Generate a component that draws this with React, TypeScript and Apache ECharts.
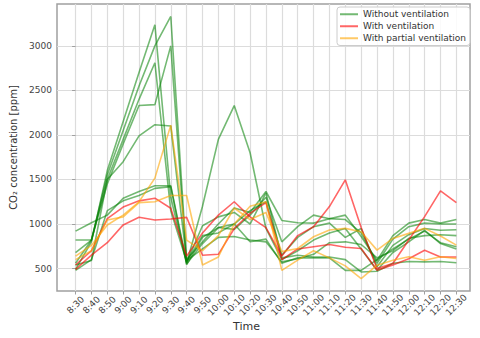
import { useEffect, useRef } from "react";
import * as echarts from "echarts";

const times = ["8:30","8:40","8:50","9:00","9:10","9:20","9:30","9:40","9:50","10:00","10:10","10:20","10:30","10:40","10:50","11:00","11:10","11:20","11:30","11:40","11:50","12:00","12:10","12:20","12:30"];
const yTicks = [500, 1000, 1500, 2000, 2500, 3000];

const green1 = [490, 800, 1600, 2150, 2700, 3236, 1300, 560, 1200, 1950, 2330, 1800, 950, 600, 700, 820, 900, 950, 720, 480, 680, 800, 930, 780, 720];
const green2 = [560, 820, 1550, 2050, 2550, 3000, 3330, 600, 800, 1000, 1180, 1130, 1365, 1040, 1015, 1010, 1060, 1100, 860, 590, 870, 1010, 1050, 1010, 1050];
const green3 = [680, 820, 1450, 1900, 2330, 2340, 3000, 550, 780, 960, 940, 1100, 1300, 800, 970, 1100, 1060, 1050, 900, 560, 830, 970, 1010, 1000, 1000];
const green4 = [540, 590, 1500, 1950, 2400, 2810, 1150, 580, 870, 900, 1000, 1150, 1250, 650, 850, 970, 1010, 850, 950, 520, 760, 880, 950, 930, 935];
const green5 = [820, 820, 1500, 1700, 1990, 2115, 2100, 590, 720, 850, 860, 820, 800, 575, 610, 660, 790, 800, 770, 620, 700, 840, 870, 880, 870];
const green6 = [920, 1015, 1100, 1290, 1365, 1430, 1430, 570, 980, 1080, 1130, 1000, 1350, 620, 650, 630, 630, 600, 462, 470, 560, 580, 575, 580, 565];
const green7 = [480, 600, 1150, 1260, 1320, 1400, 1420, 545, 850, 960, 1000, 800, 830, 560, 620, 620, 620, 480, 480, 600, 720, 830, 920, 790, 745];
const red1 = [540, 700, 1060, 1190, 1260, 1290, 1177, 640, 900, 1100, 1250, 1080, 960, 640, 870, 970, 1196, 1496, 960, 500, 556, 820, 1083, 1372, 1240];
const red2 = [490, 650, 790, 990, 1075, 1045, 1056, 1075, 650, 660, 950, 1120, 1240, 600, 720, 745, 770, 740, 725, 480, 540, 610, 705, 630, 630];
const orange1 = [640, 760, 989, 1100, 1250, 1515, 2110, 820, 700, 870, 1180, 1050, 1130, 690, 725, 857, 932, 951, 913, 707, 838, 895, 951, 865, 763];
const orange2 = [600, 700, 1045, 1080, 1240, 1250, 1320, 1320, 540, 630, 1000, 1200, 1250, 480, 594, 700, 620, 530, 387, 538, 594, 632, 594, 632, 613];

const greenSeries = [green1, green2, green3, green4, green5, green6, green7];
const redSeries = [red1, red2];
const orangeSeries = [orange1, orange2];

const FONT = "DejaVu Sans";

export default function App() {
  const ref = useRef<HTMLDivElement>(null);
  useEffect(() => {
    document.body.style.margin = "0";
    const chart = echarts.init(ref.current!, null, { renderer: "svg" });
    const mk = (name: string, color: string, data: number[]) => ({
      type: "line",
      name,
      data: data.map((v, i) => [i, v]),
      symbol: "none",
      silent: true,
      lineStyle: { color, width: 1.6 },
      itemStyle: { color },
      emphasis: { disabled: true },
    });
    const series = [
      ...greenSeries.map((d) => mk("Without ventilation", "rgba(0,128,0,0.55)", d)),
      ...redSeries.map((d) => mk("With ventilation", "rgba(255,0,0,0.6)", d)),
      ...orangeSeries.map((d) => mk("With partial ventilation", "rgba(255,165,0,0.6)", d)),
    ];
    chart.setOption({
      animation: false,
      grid: {
        left: 48,
        top: 4,
        width: 422,
        height: 287,
        show: true,
        borderColor: "#a0a0a0",
        borderWidth: 1.5,
        backgroundColor: "transparent",
      },
      xAxis: {
        type: "value",
        min: -1.17,
        max: 24.86,
        axisLine: { show: false },
        axisTick: { show: true, length: 3.5, lineStyle: { color: "#a0a0a0" }, customValues: times.map((_, i) => i) },
        splitLine: { show: true, lineStyle: { color: "#dcdcdc", width: 1.2 } },
        axisLabel: {
          customValues: times.map((_, i) => i),
          formatter: (v: number) => times[Math.round(v)] ?? "",
          rotate: 45,
          align: "center",
          verticalAlign: "middle",
          margin: 14,
          fontSize: 9,
          color: "#444",
          fontFamily: FONT,
        },
      },
      yAxis: {
        type: "value",
        min: 248,
        max: 3470,
        name: "CO\u2082 concentration [ppm]",
        nameLocation: "middle",
        nameGap: 39,
        nameTextStyle: { fontSize: 10, color: "#333", fontFamily: FONT },
        axisLine: { show: false },
        axisTick: { show: true, length: 3.5, lineStyle: { color: "#a0a0a0" }, customValues: yTicks },
        splitLine: { show: true, lineStyle: { color: "#dcdcdc", width: 1.2 } },
        axisLabel: {
          customValues: yTicks,
          formatter: (v: number) => String(v),
          fontSize: 9,
          color: "#444",
          fontFamily: FONT,
          margin: 5,
        },
      },
      legend: {
        left: 337,
        top: 7,
        orient: "vertical",
        data: ["Without ventilation", "With ventilation", "With partial ventilation"],
        icon: "rect",
        itemWidth: 18,
        itemHeight: 2,
        itemGap: 1.5,
        padding: [2, 4, 2, 3],
        borderColor: "#cccccc",
        borderWidth: 1,
        borderRadius: 3,
        backgroundColor: "rgba(255,255,255,0.85)",
        selectedMode: false,
        textStyle: { fontSize: 9, color: "#333", fontFamily: FONT, lineHeight: 10.5 },
      },
      graphic: [
        {
          type: "text",
          left: 233,
          top: 321,
          style: { text: "Time", fontSize: 11, fill: "#333", fontFamily: FONT },
        },
      ],
      series,
    });
    return () => chart.dispose();
  }, []);
  return <div ref={ref} style={{ width: 480, height: 338 }} />;
}
